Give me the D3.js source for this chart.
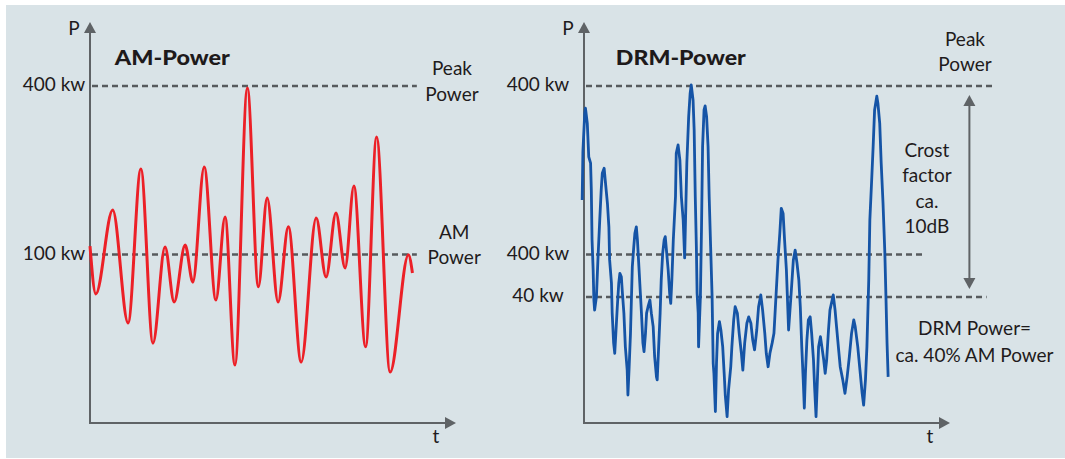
<!DOCTYPE html>
<html>
<head>
<meta charset="utf-8">
<script src="https://cdn.jsdelivr.net/npm/d3@7"></script>
<style>
body { margin: 0; background: #fff; }
svg { display: block; font-family: Lato, "Open Sans", sans-serif; }
</style>
</head>
<body>
<div id="chart"></div>
<script>
// time: 0..100 = length of the t axis, power: % of peak power (peak line = 100)
var amTime  = [0, 1.6, 6.2, 10.4, 13.9, 17.2, 20.5, 23.0, 26.0, 28.1, 31.2, 34.4, 36.9, 39.6, 43.0,
               46.0, 48.4, 51.4, 54.2, 57.7, 61.8, 64.5, 67.2, 69.7, 72.1, 75.3, 78.3, 82.0, 87.0, 88.1];
var amPower = [52.5, 38.3, 63.2, 29.7, 75.4, 23.7, 52.2, 35.9, 52.8, 41.8, 76.0, 36.5, 61.1, 17.2, 99.4,
               40.4, 66.8, 35.9, 58.2, 18.1, 60.8, 43.3, 62.3, 46.0, 70.3, 22.6, 84.9, 15.1, 49.9, 44.5];

var drmTime = [-0.5, -0.3, 0.2, 0.4, 0.9, 1.3, 1.8, 2.0, 2.2, 2.5,
               2.7, 2.9, 3.4, 3.8, 4.3, 4.7, 5.0, 5.5, 5.8, 6.4,
               6.8, 7.0, 7.5, 7.7, 8.1, 8.4, 8.7, 9.1, 9.5, 9.8,
               10.2, 10.5, 10.9, 11.3, 11.8, 12.0, 12.3, 12.7, 13.0, 13.2,
               13.6, 13.9, 14.3, 14.6, 15.0, 15.4, 15.7, 16.1, 16.4, 16.8,
               17.1, 17.5, 18.0, 18.4, 18.9, 19.3, 19.8, 20.0, 20.4, 20.8,
               21.1, 21.5, 21.9, 22.2, 22.6, 23.0, 23.4, 23.7, 24.0, 24.4,
               25.0, 25.2, 25.7, 26.2, 26.6, 27.1, 27.5,
               28.1, 28.6, 29.0, 29.3, 29.8, 30.1, 30.4, 30.7, 30.9, 31.2,
               31.3, 31.8, 32.1, 32.4, 32.8, 33.1, 33.5, 33.9, 34.2, 34.6,
               35.0, 35.3, 35.5, 35.9, 36.2, 36.5, 37.0, 37.4, 37.9, 38.3,
               38.6, 39.1, 39.5, 40.1, 40.4, 40.9, 41.3, 41.9, 42.4, 43.0,
               43.4, 43.9, 44.5, 45.0, 45.6, 46.1, 46.6, 47.2, 47.7, 48.3,
               48.8, 49.4, 49.8, 50.3, 50.8, 51.4, 51.9, 52.5, 53.0, 53.5,
               53.9, 54.4, 54.8, 55.3,
               55.9, 56.6, 57.2, 57.7, 58.2, 58.7, 59.1, 59.5, 59.9, 60.2,
               60.5, 60.9, 61.3, 61.8, 62.2, 62.7, 63.0, 63.4, 63.7, 64.1,
               64.6, 65.0, 65.5, 65.9, 66.3, 66.8, 67.2, 67.8, 68.1, 68.6,
               69.0, 69.5, 70.0, 70.7, 71.3, 71.9, 72.5, 73.1, 73.7, 74.1,
               74.8, 75.4, 76.0, 76.4, 76.9, 77.3, 77.8, 78.1, 78.6, 79.0,
               79.4, 80.0, 80.3, 80.8, 81.2, 81.7, 82.2, 82.5, 82.8, 83.1];
var drmPower = [66.2, 80.5, 91.9, 93.4, 88.9, 79.0, 77.1, 69.1, 54.3, 45.4,
                36.5, 33.5, 37.5, 48.4, 60.2, 69.1, 74.1, 75.6, 72.1, 65.2,
                58.2, 48.4, 41.5, 32.6, 23.7, 20.7, 26.6, 34.5, 41.5, 44.4,
                43.4, 38.5, 32.6, 22.6, 15.7, 8.3, 15.7, 26.6, 38.5, 46.4,
                52.3, 56.3, 58.2, 54.3, 46.4, 38.5, 32.6, 23.7, 21.2, 26.6,
                32.6, 34.5, 36.5, 32.6, 28.6, 19.7, 13.7, 12.8, 22.6, 32.6,
                42.4, 50.4, 54.3, 55.3, 50.4, 45.4, 38.5, 35.5, 42.4, 54.3,
                67.2, 80.0, 82.5, 78.0, 67.2, 60.2, 49.0,
                77.2, 90.9, 97.8, 100.3, 95.8, 86.9, 67.2, 52.3, 38.5, 32.6,
                22.6, 37.5, 57.3, 82.0, 92.9, 94.1, 90.9, 82.0, 67.2, 52.3,
                37.5, 17.7, 14.7, 3.4, 17.7, 26.6, 30.1, 27.6, 22.6, 14.7,
                8.3, 1.9, 9.8, 16.7, 22.6, 30.6, 34.5, 32.6, 26.6, 20.7,
                15.7, 23.7, 29.6, 31.5, 29.6, 24.6, 21.7, 27.6, 34.5, 38.0,
                33.5, 26.6, 20.7, 16.7, 20.7, 23.7, 26.6, 38.5, 48.4, 56.3,
                63.7, 62.2, 54.3, 45.4,
                27.6, 38.5, 48.4, 51.3, 47.4, 42.4, 34.5, 22.6, 12.8, 4.4,
                14.7, 24.6, 30.6, 31.5, 26.6, 18.7, 10.8, 1.9, 10.8, 22.6,
                25.6, 22.6, 18.7, 14.7, 18.7, 27.6, 33.5, 36.5, 38.0, 33.5,
                28.6, 22.6, 16.7, 12.8, 8.8, 13.7, 19.7, 26.6, 30.6, 28.6,
                22.6, 15.7, 8.8, 5.3, 12.8, 22.6, 42.4, 60.2, 72.1, 82.0,
                92.9, 97.0, 94.9, 88.9, 77.1, 65.2, 50.4, 37.5, 23.7, 13.7];

var amLevels = [100, 50];
var amLevelLabels = ["400 kw", "100 kw"];
var amLevelEnds = [89.3, 89.3];
var drmLevels = [100, 50, 37.4];
var drmLevelLabels = ["400 kw", "400 kw", "40 kw"];
var drmLevelEnds = [111.7, 92.5, 110];

var amTitle = "AM-Power";
var drmTitle = "DRM-Power";
var amPeakNote = ["Peak", "Power"];
var amPowerNote = ["AM", "Power"];
var drmPeakNote = ["Peak", "Power"];
var crestNote = ["Crost", "factor", "ca.", "10dB"];
var drmNote = ["DRM Power=", "ca. 40% AM Power"];

var W = 1065, H = 459;
var axisColor = "#5f6366", dashColor = "#575b5e", textColor = "#1f1b1c";
var font = "Lato, 'Open Sans', sans-serif";

var svg = d3.select("#chart").append("svg").attr("width", W).attr("height", H);
svg.append("rect").attr("x", 6).attr("y", 5).attr("width", W - 6).attr("height", H - 6)
  .attr("fill", "#d9e3e7");

var y = d3.scaleLinear().domain([0, 100]).range([423, 86]);

function lines(g, words, cx, base, step) {
  g.append("g").selectAll("text").data(words).enter().append("text")
    .attr("x", cx).attr("y", function(d, i) { return base + i * step; })
    .attr("text-anchor", "middle").attr("fill", textColor)
    .style("font-family", font).style("font-size", "19px")
    .text(function(d) { return d; });
}

function arrowHead(g, tx, ty, dir) {
  // dir: "up", "down", "right"
  var p;
  if (dir == "up") p = [[tx - 6, ty + 11], [tx, ty], [tx + 6, ty + 11]];
  else if (dir == "down") p = [[tx - 6, ty - 11], [tx, ty], [tx + 6, ty - 11]];
  else p = [[tx - 11, ty - 6], [tx, ty], [tx - 11, ty + 6]];
  g.append("path").attr("d", "M" + p.join("L") + "Z").attr("fill", axisColor);
}

function drawPanel(opt) {
  var x = d3.scaleLinear().domain([0, 100]).range([opt.left, opt.left + 366]);
  var g = svg.append("g");

  g.selectAll("line.level").data(opt.levels).enter().append("line")
    .attr("class", "level")
    .attr("x1", x(0) + 2)
    .attr("x2", function(d, i) { return x(opt.ends[i]); })
    .attr("y1", function(d) { return y(d); })
    .attr("y2", function(d) { return y(d); })
    .attr("stroke", dashColor).attr("stroke-width", 2.5).attr("stroke-dasharray", "6,4");

  // axes with arrows
  var top = y(119);
  g.append("line").attr("x1", x(0)).attr("x2", x(0)).attr("y1", y(0) + 1).attr("y2", top + 10)
    .attr("stroke", axisColor).attr("stroke-width", 2);
  arrowHead(g, x(0), top, "up");
  g.append("line").attr("x1", x(0) - 1).attr("x2", x(100) - 10).attr("y1", y(0)).attr("y2", y(0))
    .attr("stroke", axisColor).attr("stroke-width", 2);
  arrowHead(g, x(100), y(0), "right");

  g.append("text").attr("x", x(0) - 16).attr("y", 35).attr("text-anchor", "middle")
    .attr("fill", textColor).style("font-family", font).style("font-size", "19px").text("P");
  g.append("text").attr("x", x(100) - 20).attr("y", 443).attr("text-anchor", "middle")
    .attr("fill", textColor).style("font-family", font).style("font-size", "19px").text("t");

  var ax = g.append("g").attr("transform", "translate(" + x(0) + ",0)")
    .call(d3.axisLeft(y).tickValues(opt.levels).tickSize(0)
      .tickFormat(function(d, i) { return opt.labels[i]; }));
  ax.select(".domain").remove();
  ax.selectAll("text").attr("x", -opt.labelOffset).attr("dy", "0.26em")
    .attr("text-anchor", "middle").attr("fill", textColor)
    .style("font-family", font).style("font-size", "19px");

  g.append("text").attr("x", x(opt.titleT)).attr("y", 65)
    .attr("textLength", opt.titleWidth).attr("lengthAdjust", "spacingAndGlyphs")
    .attr("fill", "#1e1a1b").style("font-family", font).style("font-size", "20px")
    .style("font-weight", 900).text(opt.title);

  var line = d3.line()
    .x(function(d, i) { return x(opt.time[i]); })
    .y(function(d) { return y(d); })
    .curve(opt.curve);
  g.append("path").datum(opt.power).attr("d", line)
    .attr("fill", "none").attr("stroke", opt.color).attr("stroke-width", opt.width)
    .attr("stroke-linejoin", "round");

  return { g: g, x: x };
}

var am = drawPanel({ left: 90, time: amTime, power: amPower, color: "#ec2027", width: 3,
  curve: d3.curveMonotoneX, levels: amLevels, labels: amLevelLabels, ends: amLevelEnds,
  labelOffset: 36, title: amTitle, titleT: 6.8, titleWidth: 115 });
lines(am.g, amPeakNote, am.x(98.9), y(100) - 11, 26);
lines(am.g, amPowerNote, am.x(99.5), y(50) - 16, 25);

var drm = drawPanel({ left: 584, time: drmTime, power: drmPower, color: "#1554a6", width: 2.8,
  curve: d3.curveLinear, levels: drmLevels, labels: drmLevelLabels, ends: drmLevelEnds,
  labelOffset: 46, title: drmTitle, titleT: 8.7, titleWidth: 130 });
lines(drm.g, drmPeakNote, drm.x(104.1), y(100) - 40, 25);
lines(drm.g, crestNote, drm.x(93.7), y(100) + 71, 25.4);
lines(drm.g, drmNote, drm.x(106.7), y(37.4) + 38, 27);

// crest factor double arrow between peak and 40 kw level
var ax0 = drm.x(105.3), ya = y(100) + 9, yb = y(37.4) - 8;
drm.g.append("line").attr("x1", ax0).attr("x2", ax0).attr("y1", ya + 9).attr("y2", yb - 9)
  .attr("stroke", axisColor).attr("stroke-width", 2);
arrowHead(drm.g, ax0, ya, "up");
arrowHead(drm.g, ax0, yb, "down");
</script>
</body>
</html>
